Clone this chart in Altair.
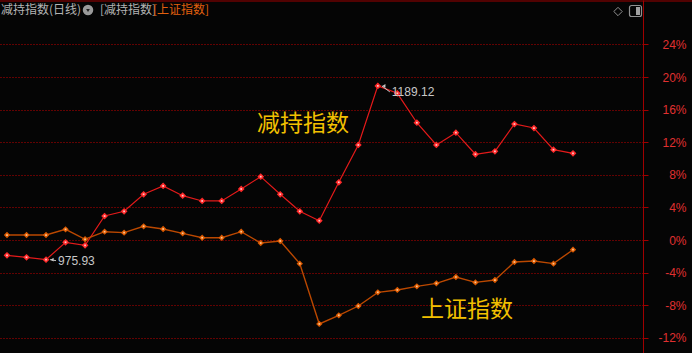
import altair as alt
import pandas as pd

# ---------------- data ----------------
day = list(range(30))
jianchi = [-1.88, -2.12, -2.41, -0.28, -0.65, 2.94, 3.52, 5.61, 6.63, 5.44,
           4.79, 4.79, 6.26, 7.77, 5.61, 3.52, 2.37, 7.08, 11.66, 18.91,
           18.0, 14.39, 11.66, 13.17, 10.52, 10.88, 14.23, 13.74, 11.08, 10.64]
shangzheng = [0.61, 0.61, 0.61, 1.31, 0.09, 1.02, 0.90, 1.68, 1.35, 0.82,
              0.28, 0.28, 1.02, -0.37, -0.12, -2.90, -10.30, -9.24, -8.10, -6.42,
              -6.13, -5.69, -5.32, -4.54, -5.20, -4.91, -2.70, -2.58, -2.90, -1.19]
y_ticks = [-12, -8, -4, 0, 4, 8, 12, 16, 20, 24]
min_day, min_label = 2, "975.93"
max_day, max_label = 19, "1189.12"
header_title = ["减持指数(日线)"]
header_s1 = ["[减持指数]"]
header_s2 = ["[上证指数]"]
series_labels = ["减持指数", "上证指数"]

df = pd.DataFrame({"day": day, "jc": jianchi, "sz": shangzheng})
ann_min = pd.DataFrame({"day": [min_day], "v": [jianchi[min_day]], "t": [min_label]})
ann_max = pd.DataFrame({"day": [max_day], "v": [jianchi[max_day]], "t": [max_label]})
ticks_df = pd.DataFrame({"v": y_ticks})

xs = alt.Scale(domain=[-0.3587, 32.587], nice=False, zero=False)
ys = alt.Scale(domain=[-13.865, 29.448], nice=False, zero=False)
X = alt.X("day:Q", scale=xs, axis=None)

def Y(field):
    return alt.Y(field, scale=ys, axis=None)

RED_LINE = "#e41a1a"
RED_PT = "#ff2a2a"
ORG_LINE = "#bb4800"
ORG_PT = "#dc5a00"
CJK = "Noto Sans CJK SC"

base = alt.Chart(df)

# axis drawn from tick list
axis_layer = alt.Chart(ticks_df).mark_rule(opacity=0).encode(
    y=alt.Y("v:Q", scale=ys, axis=alt.Axis(
        orient="right", values=y_ticks, labelExpr="datum.value + '%'",
        grid=True, gridColor="#c00000", gridDash=[1, 2], gridWidth=1, gridOpacity=1,
        domainColor="#a00000", domainWidth=1, tickColor="#a00000", tickSize=5,
        labelColor="#e03030", labelFont="Liberation Sans", labelFontSize=12,
        labelAlign="right", labelBaseline="middle", labelPadding=38,
        title=None, labelOverlap=False, labelFlush=False)),
)

red_line = base.mark_line(color=RED_LINE, strokeWidth=1.2).encode(x=X, y=Y("jc:Q"))
org_line = base.mark_line(color=ORG_LINE, strokeWidth=1.4).encode(x=X, y=Y("sz:Q"))
red_pts = base.mark_point(shape="diamond", filled=True, size=46, color=RED_PT, opacity=1).encode(
    x=X, y=Y("jc:Q"))
org_pts = base.mark_point(shape="diamond", filled=True, size=40, color=ORG_PT, opacity=1).encode(
    x=X, y=Y("sz:Q"))
red_ctr = base.mark_point(shape="square", filled=True, size=3, color="#ffd6d6", opacity=0.9).encode(
    x=X, y=Y("jc:Q"))
org_ctr = base.mark_point(shape="square", filled=True, size=3, color="#ffd0a0", opacity=0.9).encode(
    x=X, y=Y("sz:Q"))

# annotations
def annot(d, dx_text, dy_end):
    c = alt.Chart(d)
    rule = c.mark_rule(color="#c8c8c8", strokeWidth=1, xOffset=4, x2Offset=dx_text - 2,
                       yOffset=0, y2Offset=dy_end).encode(
        x=X, x2="day:Q", y=Y("v:Q"), y2="v:Q")
    head = c.mark_point(shape="triangle-left", filled=True, size=14, color="#c8c8c8",
                        xOffset=6, opacity=1).encode(x=X, y=Y("v:Q"))
    txt = c.mark_text(align="left", baseline="middle", dx=dx_text, dy=dy_end,
                      color="#c8c8c8", font="Liberation Sans", fontSize=12).encode(
        x=X, y=Y("v:Q"), text="t:N")
    return [rule, head, txt]

ann_layers = annot(ann_min, 12, 1) + annot(ann_max, 14, 6)

# header
one = pd.DataFrame({"a": [0]})
h1 = alt.Chart(pd.DataFrame({"t": header_title})).mark_text(
    align="left", baseline="middle", font=CJK, fontSize=12, color="#b4b4b4").encode(
    text="t:N", x=alt.value(1), y=alt.value(10))
h_circle = alt.Chart(one).mark_point(shape="circle", filled=True, size=110, color="#9a9a9a", opacity=1).encode(
    x=alt.value(88), y=alt.value(10))
h_chev = alt.Chart(one).mark_point(shape="triangle-down", filled=True, size=14, color="#202020", opacity=1).encode(
    x=alt.value(88), y=alt.value(10.5))
h2 = alt.Chart(pd.DataFrame({"t": header_s1})).mark_text(
    align="left", baseline="middle", font=CJK, fontSize=12, color="#b4b4b4").encode(
    text="t:N", x=alt.value(100), y=alt.value(10))
h3 = alt.Chart(pd.DataFrame({"t": header_s2})).mark_text(
    align="left", baseline="middle", font=CJK, fontSize=12, color="#e2600e").encode(
    text="t:N", x=alt.value(153), y=alt.value(10))

# series labels
lab1 = alt.Chart(pd.DataFrame({"t": [series_labels[0]]})).mark_text(
    align="center", baseline="middle", font=CJK, fontSize=23, color="#f2c000").encode(
    text="t:N", x=alt.value(303), y=alt.value(124))
lab2 = alt.Chart(pd.DataFrame({"t": [series_labels[1]]})).mark_text(
    align="center", baseline="middle", font=CJK, fontSize=23, color="#f2c000").encode(
    text="t:N", x=alt.value(467), y=alt.value(310))

# frame / icons
top_line = alt.Chart(one).mark_rule(color="#a00000", strokeWidth=1).encode(
    x=alt.value(0), x2=alt.value(692), y=alt.value(1))
icon_diamond = alt.Chart(one).mark_point(shape="diamond", filled=False, size=70, color="#909090",
                                         strokeWidth=1, opacity=1).encode(
    x=alt.value(618), y=alt.value(11.5))
icon_box = alt.Chart(one).mark_rect(fill="#050505", stroke="#909090", strokeWidth=1.2, cornerRadius=2).encode(
    x=alt.value(629.5), x2=alt.value(641.5), y=alt.value(5.5), y2=alt.value(16.5))
icon_fill = alt.Chart(one).mark_rect(fill="#a0a0a0").encode(
    x=alt.value(636), x2=alt.value(640), y=alt.value(7), y2=alt.value(15))

chart = alt.layer(
    axis_layer, red_line, org_line, org_pts, red_pts, org_ctr, red_ctr, *ann_layers,
    lab1, lab2, top_line, h1, h_circle, h_chev, h2, h3, icon_diamond, icon_box, icon_fill,
).resolve_axis(y="independent").properties(
    width=643, height=353,
    autosize=alt.AutoSizeParams(type="none"),
    padding={"left": 0, "top": 0, "right": 49, "bottom": 0},
    background="#050505",
).configure_view(stroke=None)

chart.save("out.html", embed_options={"renderer": "svg", "actions": False})
